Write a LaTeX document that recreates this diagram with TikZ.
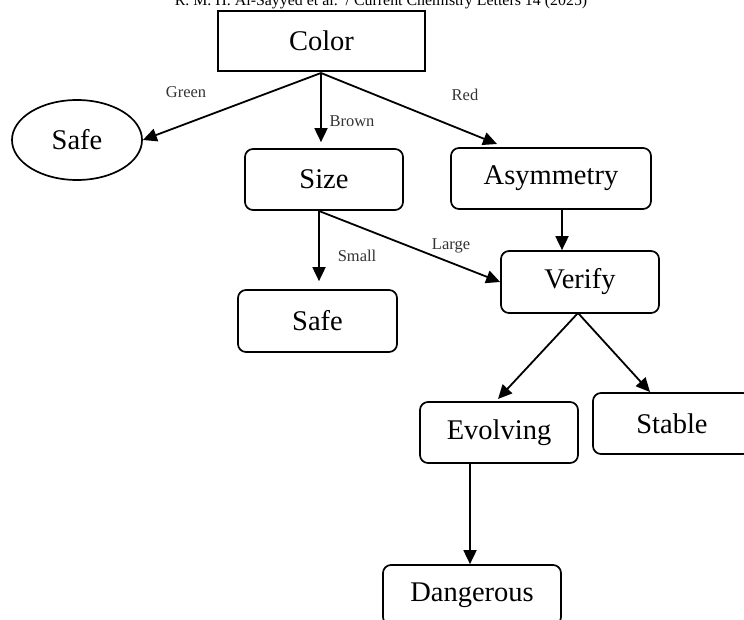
\documentclass[tikz,border=0pt]{standalone}
\usepackage{fontspec}
\setmainfont{Liberation Serif}
\usetikzlibrary{arrows.meta,shapes.geometric}
\begin{document}
\begin{tikzpicture}[x=1pt,y=-1pt,
  box/.style={draw, rounded corners=8pt, minimum height=61pt, inner sep=0pt, line width=1.7pt, font=\fontsize{28.5}{32}\selectfont},
  lbl/.style={inner sep=0pt, text=black!80, font=\fontsize{16.5}{18}\selectfont},
  arr/.style={line width=1.8pt, -{Triangle[length=14pt,width=13pt]}}]
\useasboundingbox (0,0) rectangle (744,620);
\clip (0,0) rectangle (744,620);
\node[anchor=base, inner sep=0pt, font=\fontsize{15.9}{18}\selectfont] (hdr) at (381,6) {R. M. H. Al-Sayyed et al.\ \ / Current Chemistry Letters 14 (2025)};
\node[box, rounded corners=0pt, minimum width=207pt, minimum height=60pt] (color) at (321.5,41) {Color};
\node[draw, ellipse, line width=1.7pt, minimum width=130pt, minimum height=80pt, inner sep=0pt, font=\fontsize{28.5}{32}\selectfont] (safeA) at (77,140) {Safe};
\node[box, minimum width=158pt] (size) at (324,179.5) {Size};
\node[box, minimum width=200pt] (asym) at (551,178.5) {Asymmetry};
\node[box, minimum width=158pt, minimum height=62pt] (verify) at (580,282) {Verify};
\node[box, minimum width=159pt, minimum height=62pt] (safeB) at (317.5,321) {Safe};
\node[box, minimum width=158pt] (evolv) at (499,432.5) {Evolving};
\node[box, minimum width=158pt] (stable) at (672,423.5) {Stable};
\node[box, minimum width=178pt, minimum height=60pt] (dang) at (472,595) {Dangerous};
% connector points
\coordinate (cS) at (321,73);
\coordinate (sS) at (319,211);
\coordinate (aS) at (562,209);
\coordinate (vS) at (578,313);
\coordinate (eS) at (470,463);
\coordinate (redT) at (497,144);
\coordinate (evT) at (498,399);
\coordinate (stT) at (650,392);
\draw[arr] (cS) -- (safeA.east);
\draw[arr, shorten >=6pt] (cS) -- (cS |- size.north);
\draw[arr] (cS) -- (redT);
\draw[arr] (aS) -- (aS |- verify.north);
\draw[arr, shorten >=8pt] (sS) -- (sS |- safeB.north);
\draw[arr] (sS) -- (verify.west);
\draw[arr] (vS) -- (evT);
\draw[arr] (vS) -- (stT);
\draw[arr] (eS) -- (eS |- dang.north);
\node[lbl] (lg) at (186,92) {Green};
\node[lbl] (lb) at (352,121) {Brown};
\node[lbl] (lr) at (465,95) {Red};
\node[lbl] (lsm) at (357,256) {Small};
\node[lbl] (llg) at (451,246) {Large};
\end{tikzpicture}
\end{document}
